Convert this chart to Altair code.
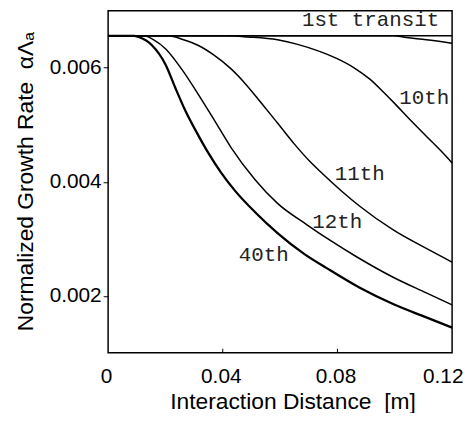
import altair as alt
import pandas as pd

# ---- data ----
flat_x = [0.0, 0.03, 0.06, 0.09, 0.12]
flat_y = [0.00656, 0.00656, 0.00656, 0.00656, 0.00656]

mid_x = [0.0, 0.0996, 0.1041, 0.1110, 0.12]
mid_y = [0.00656, 0.00656, 0.00653, 0.00649, 0.00643]

t10_x = [0.0, 0.0418, 0.0488, 0.0591, 0.0661, 0.0730, 0.0799, 0.0858, 0.0913,
         0.0961, 0.1006, 0.1051, 0.1110, 0.1169, 0.12]
t10_y = [0.00656, 0.00656, 0.00654, 0.00649, 0.00641, 0.00630, 0.00616, 0.00600,
         0.00580, 0.00557, 0.00534, 0.00510, 0.00480, 0.00450, 0.00433]

t11_x = [0.0, 0.0211, 0.0263, 0.0315, 0.0367, 0.0429, 0.0477, 0.0533, 0.0591,
         0.0650, 0.0705, 0.0740, 0.0816, 0.0878, 0.0996, 0.1110, 0.12]
t11_y = [0.00656, 0.00656, 0.00649, 0.00639, 0.00623, 0.00598, 0.00573, 0.00539,
         0.00503, 0.00466, 0.00435, 0.00418, 0.00383, 0.00357, 0.00315, 0.00283, 0.00259]

t12_x = [0.0, 0.0125, 0.0159, 0.0201, 0.0256, 0.0315, 0.0373, 0.0429, 0.0512,
         0.0591, 0.0695, 0.0775, 0.0868, 0.0996, 0.1110, 0.12]
t12_y = [0.00656, 0.00656, 0.00649, 0.00633, 0.00598, 0.00553, 0.00506, 0.00460,
         0.00404, 0.00362, 0.00324, 0.00297, 0.00268, 0.00232, 0.00205, 0.00184]

t40_x = [0.0, 0.0090, 0.0107, 0.0152, 0.0201, 0.0235, 0.0270, 0.0315, 0.0349,
         0.0394, 0.0443, 0.0512, 0.0591, 0.0685, 0.0764, 0.0878, 0.0996, 0.1110, 0.12]
t40_y = [0.00656, 0.00656, 0.00654, 0.00640, 0.00605, 0.00564, 0.00524, 0.00481,
         0.00451, 0.00416, 0.00384, 0.00347, 0.00310, 0.00273, 0.00248, 0.00214,
         0.00185, 0.00162, 0.00144]

curve_labels = ["10th", "11th", "12th", "40th"]
curve_label_x = [0.1103, 0.0878, 0.0799, 0.0543]
curve_label_y = [0.00546, 0.00414, 0.00330, 0.00271]

top_label = ["1st transit"]
top_label_x = [0.1155]
top_label_y = [0.00684]

x_ticks = [0, 0.04, 0.08, 0.12]
y_ticks = [0.002, 0.004, 0.006]
inner_x_ticks = [0.04, 0.08]

series = [
    ("1st", flat_x, flat_y, 1.5),
    ("mid", mid_x, mid_y, 1.5),
    ("10th", t10_x, t10_y, 1.5),
    ("11th", t11_x, t11_y, 1.5),
    ("12th", t12_x, t12_y, 1.5),
    ("40th", t40_x, t40_y, 2.3),
]
rows = []
for name, xs, ys, w in series:
    for i, (xv, yv) in enumerate(zip(xs, ys)):
        rows.append({"series": name, "dist": xv, "rate": yv, "w": w, "order": i})
df = pd.DataFrame(rows)

curve_df = pd.DataFrame({"text": curve_labels, "dist": curve_label_x, "rate": curve_label_y})
top_df = pd.DataFrame({"text": top_label, "dist": top_label_x, "rate": top_label_y})
ticks_df = pd.DataFrame({"dist": inner_x_ticks})

W, H = 347, 345
x_scale = alt.Scale(domain=[0, 0.12], nice=False, zero=False)
y_scale = alt.Scale(domain=[0.001, 0.007], nice=False, zero=False)

x_axis = alt.Axis(
    values=x_ticks,
    labelExpr="datum.value == 0 ? '0' : format(datum.value, '.2f')",
    labelFlush=False,
    labelAlign={"condition": {"test": "datum.value >= 0.12", "value": "right"}, "value": "center"},
    labelOffset={"condition": {"test": "datum.value >= 0.12", "value": 11}, "value": -2},
    ticks=False, domain=False, grid=False,
    labelPadding=13, labelFont="Liberation Sans", labelFontSize=21,
    labelColor="black",
    title="Interaction Distance\u00a0\u00a0[m]",
    titleFont="Liberation Sans", titleFontSize=23, titleFontWeight="normal",
    titleColor="black", titleX=186, titleY=56, titleAlign="center",
    titleBaseline="alphabetic",
)
y_axis = alt.Axis(
    values=y_ticks, format=".3f",
    ticks=True, tickSize=5, tickColor="black", tickWidth=1,
    domain=False, grid=False,
    labelPadding=2, labelFont="Liberation Sans", labelFontSize=21,
    labelColor="black",
    title="Normalized Growth Rate\u00a0\u00a0\u03b1\u039b\u2090",
    titleFont="Liberation Sans", titleFontSize=23, titleFontWeight="normal",
    titleColor="black", titleAngle=270, titleX=-76, titleY=172,
    titleAlign="center", titleBaseline="alphabetic",
)

lines = alt.Chart(df).mark_line(color="black", interpolate="monotone").encode(
    x=alt.X("dist:Q", scale=x_scale, axis=x_axis),
    y=alt.Y("rate:Q", scale=y_scale, axis=y_axis),
    detail="series:N",
    order="order:Q",
    strokeWidth=alt.StrokeWidth("w:Q", scale=None, legend=None),
)

curve_text = alt.Chart(curve_df).mark_text(
    font="Liberation Mono", fontSize=21, color="#222222", baseline="middle", align="center"
).encode(
    x=alt.X("dist:Q", scale=x_scale),
    y=alt.Y("rate:Q", scale=y_scale),
    text="text:N",
)

top_text = alt.Chart(top_df).mark_text(
    font="Liberation Mono", fontSize=21, color="#222222", baseline="middle", align="right"
).encode(
    x=alt.X("dist:Q", scale=x_scale),
    y=alt.Y("rate:Q", scale=y_scale),
    text="text:N",
)

inner_ticks = alt.Chart(ticks_df).mark_rule(color="black", strokeWidth=1).encode(
    x=alt.X("dist:Q", scale=x_scale),
    y=alt.value(H),
    y2=alt.value(H - 4),
)

chart = alt.layer(lines, curve_text, top_text, inner_ticks).properties(
    width=W, height=H,
    background="white",
    autosize=alt.AutoSizeParams(type="none"),
    padding={"left": 101, "top": 1, "right": 11, "bottom": 59},
).configure_view(
    stroke="black", strokeWidth=1.5
)

chart.save("out.html", embed_options={"renderer": "svg", "actions": False})
